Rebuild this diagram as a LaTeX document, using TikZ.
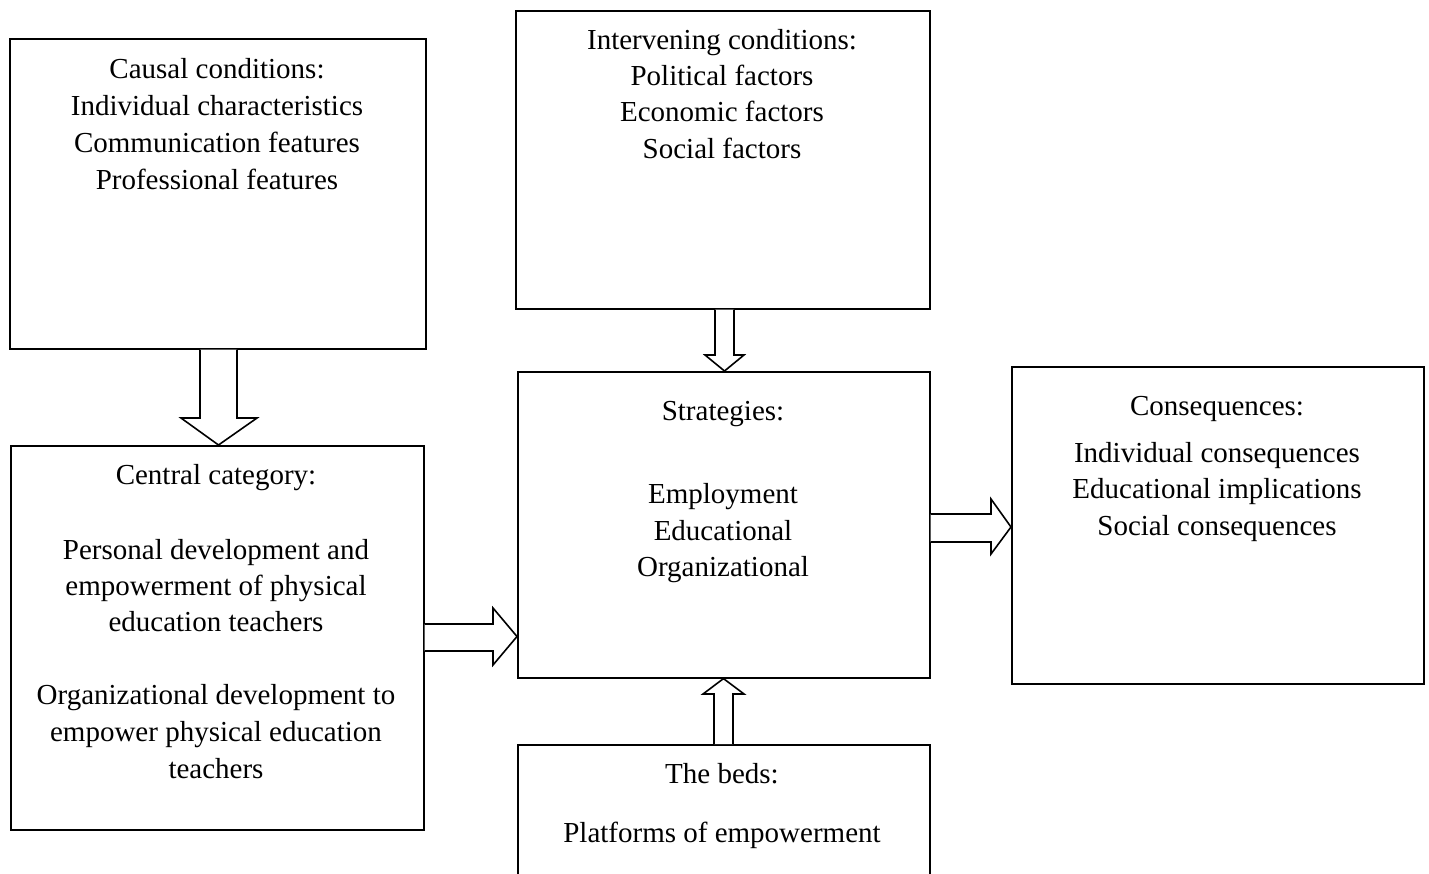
\documentclass[tikz,border=0pt]{standalone}
\usepackage{fontspec}
\setmainfont{Liberation Serif}
\usetikzlibrary{calc}
\begin{document}
\begin{tikzpicture}[x=1pt,y=-1pt,
  box/.style={draw,line width=1.6pt,rectangle,inner sep=0pt,anchor=north west},
  blk/.style={draw,line width=1.6pt,fill=white,line join=miter},
  txt/.style={anchor=base,inner sep=0pt,font=\fontsize{29}{36}\selectfont,yshift=-2pt}]
\useasboundingbox (0,0) rectangle (1429,874);
\clip (0,0) rectangle (1429,874);
% boxes
\node[box,minimum width=416pt,minimum height=310pt] (causal) at (9,38) {};
\node[box,minimum width=414pt,minimum height=298pt] (interv) at (515,10) {};
\node[box,minimum width=412pt,minimum height=306pt] (strat) at (517,371) {};
\node[box,minimum width=412pt,minimum height=317pt] (conseq) at (1011,366) {};
\node[box,minimum width=413pt,minimum height=384pt] (central) at (10,445) {};
\node[box,minimum width=412pt,minimum height=200pt] (beds) at (517,744) {};
% texts
\node[txt] (c1) at (217,77) {Causal conditions:};
\node[txt] (c2) at (217,114) {Individual characteristics};
\node[txt] (c3) at (217,151) {Communication features};
\node[txt] (c4) at (217,188) {Professional features};
\node[txt] (i1) at (722,48) {Intervening conditions:};
\node[txt] (i2) at (722,84) {Political factors};
\node[txt] (i3) at (722,120) {Economic factors};
\node[txt] (i4) at (722,157) {Social factors};
\node[txt] (s1) at (723,418) {Strategies:};
\node[txt] (s2) at (723,501) {Employment};
\node[txt] (s3) at (723,538) {Educational};
\node[txt] (s4) at (723,574) {Organizational};
\node[txt] (q1) at (1217,413) {Consequences:};
\node[txt] (q2) at (1217,460) {Individual consequences};
\node[txt] (q3) at (1217,496) {Educational implications};
\node[txt] (q4) at (1217,533) {Social consequences};
\node[txt] (m1) at (216,482) {Central category:};
\node[txt] (m2) at (216,557) {Personal development and};
\node[txt] (m3) at (216,593) {empowerment of physical};
\node[txt] (m4) at (216,629) {education teachers};
\node[txt] (m5) at (216,702) {Organizational development to};
\node[txt] (m6) at (216,739) {empower physical education};
\node[txt] (m7) at (216,776) {teachers};
\node[txt] (b1) at (722,781) {The beds:};
\node[txt] (b2) at (722,840) {Platforms of empowerment};
% block arrows
% causal -> central (down)
\draw[blk] (200,0 |- causal.south) -- (200,418) -- (181,418) -- (218.5,0 |- central.north)
  -- (257,418) -- (237,418) -- (237,0 |- causal.south);
% intervening -> strategies (down)
\draw[blk] (715,0 |- interv.south) -- (715,355) -- (705,355) -- (724.5,0 |- strat.north)
  -- (744,355) -- (734,355) -- (734,0 |- interv.south);
% central -> strategies (right)
\draw[blk] (central.east |- 0,624) -- (493,624) -- (493,608) -- (strat.west |- 0,636.5)
  -- (493,665) -- (493,651) -- (central.east |- 0,651);
% strategies -> consequences (right)
\draw[blk] (strat.east |- 0,514) -- (991,514) -- (991,499) -- (conseq.west |- 0,527)
  -- (991,554) -- (991,542) -- (strat.east |- 0,542);
% beds -> strategies (up)
\draw[blk] (714,0 |- beds.north) -- (714,694) -- (703,694) -- (723.5,0 |- strat.south)
  -- (744,694) -- (733,694) -- (733,0 |- beds.north);
\end{tikzpicture}
\end{document}
